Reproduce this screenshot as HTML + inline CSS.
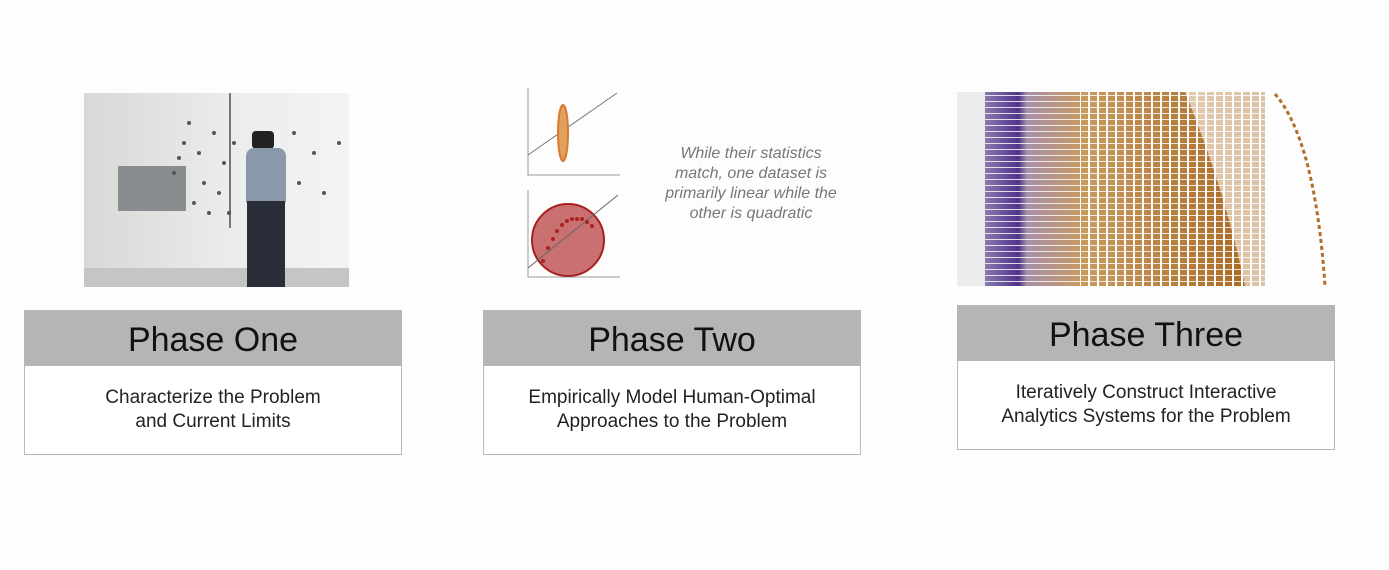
<!DOCTYPE html>
<html><head><style>
body{margin:0;width:1389px;height:570px;background:#fdfdfd;position:relative;overflow:hidden;font-family:"Liberation Sans",sans-serif}
.box{position:absolute;width:376px;border:1px solid #b8b8b8;background:#fff}
.hd{height:55px;background:#b5b5b8;text-align:center;font-size:34px;line-height:58px;color:#111;font-weight:300}
.bd{height:88px;text-align:center;font-size:19px;line-height:24px;color:#222;padding-top:20px;box-sizing:border-box}
</style></head><body>
<div style="position:absolute;left:84px;top:93px;width:265px;height:194px;background:linear-gradient(90deg,#d8d9d6,#eceeed 60%,#f2f3f2);overflow:hidden">
<div style="position:absolute;left:0;top:175px;width:265px;height:19px;background:#c4c6c5"></div>
<div style="position:absolute;left:34px;top:73px;width:68px;height:45px;background:#8a8d90"></div>
<div style="position:absolute;left:145px;top:0;width:2px;height:135px;background:#777"></div>
<div style="position:absolute;left:168px;top:38px;width:22px;height:18px;background:#222;border-radius:4px"></div>
<div style="position:absolute;left:162px;top:55px;width:40px;height:55px;background:#8a99aa;border-radius:8px 8px 2px 2px"></div>
<div style="position:absolute;left:163px;top:108px;width:38px;height:86px;background:#2a2e38"></div>
<svg width="265" height="194" style="position:absolute;left:0;top:0">
<g fill="#555">
<circle cx="100" cy="50" r="2"/><circle cx="115" cy="60" r="2"/><circle cx="130" cy="40" r="2"/><circle cx="90" cy="80" r="2"/><circle cx="120" cy="90" r="2"/><circle cx="140" cy="70" r="2"/><circle cx="110" cy="110" r="2"/><circle cx="135" cy="100" r="2"/><circle cx="150" cy="50" r="2"/><circle cx="105" cy="30" r="2"/><circle cx="125" cy="120" r="2"/><circle cx="145" cy="120" r="2"/><circle cx="95" cy="65" r="2"/><circle cx="210" cy="40" r="2"/><circle cx="230" cy="60" r="2"/><circle cx="255" cy="50" r="2"/><circle cx="215" cy="90" r="2"/><circle cx="240" cy="100" r="2"/>
</g></svg>
</div>
<svg width="140" height="200" style="position:absolute;left:520px;top:85px" >
<g stroke="#999" stroke-width="1" fill="none"><path d="M8 3 V90 H100"/><path d="M8 105 V192 H100"/></g>
<line x1="8" y1="70" x2="97" y2="8" stroke="#777"/>
<ellipse cx="43" cy="48" rx="5" ry="28" fill="#e0a060" stroke="#d77a30" stroke-width="2"/>
<circle cx="48" cy="155" r="36" fill="#c97070" stroke="#a82020" stroke-width="2"/>
<line x1="8" y1="183" x2="98" y2="110" stroke="#666"/>
<g fill="#a22"><circle cx="23" cy="176" r="2"/><circle cx="28" cy="163" r="2"/><circle cx="33" cy="154" r="2"/><circle cx="37" cy="146" r="2"/><circle cx="42" cy="140" r="2"/><circle cx="47" cy="136" r="2"/><circle cx="52" cy="134" r="2"/><circle cx="57" cy="134" r="2"/><circle cx="62" cy="134" r="2"/><circle cx="67" cy="137" r="2"/><circle cx="72" cy="141" r="2"/></g>
</svg>
<div style="position:absolute;left:640px;top:144px;width:222px;text-align:center;font-style:italic;color:#777;font-size:16px;line-height:20px">While their statistics<br>match, one dataset is<br>primarily linear while the<br>other is quadratic</div>
<svg width="380" height="200" style="position:absolute;left:955px;top:90px">
<defs>
<linearGradient id="g" x1="0" x2="1"><stop offset="0" stop-color="#8a7ab0"/><stop offset="0.12" stop-color="#4e3388"/><stop offset="0.15" stop-color="#a890a8"/><stop offset="0.35" stop-color="#c89a60"/><stop offset="1" stop-color="#a8661e"/></linearGradient>
<pattern id="v" width="9" height="200" patternUnits="userSpaceOnUse"><rect x="7" width="2" height="200" fill="#fff"/></pattern>
<pattern id="h" width="10" height="6" patternUnits="userSpaceOnUse"><rect y="5" width="10" height="1" fill="#fff" opacity="0.8"/></pattern>
</defs>
<rect x="2" y="2" width="28" height="194" fill="#ececee"/>
<rect x="30" y="2" width="280" height="194" fill="url(#g)"/>
<rect x="125" y="2" width="185" height="194" fill="url(#v)"/>
<rect x="30" y="2" width="280" height="194" fill="url(#h)"/>
<path d="M230 2 L312 2 L312 196 L290 196 Q270 100 230 2Z" fill="#fff" opacity="0.6"/>
<path d="M320 4 Q360 50 370 196" stroke="#b0702a" stroke-width="3" fill="none" stroke-dasharray="4 3"/>
</svg>
<div class="box" style="left:24px;top:310px"><div class="hd">Phase One</div><div class="bd">Characterize the Problem<br>and Current Limits</div></div>
<div class="box" style="left:483px;top:310px"><div class="hd">Phase Two</div><div class="bd">Empirically Model Human-Optimal<br>Approaches to the Problem</div></div>
<div class="box" style="left:957px;top:305px"><div class="hd">Phase Three</div><div class="bd">Iteratively Construct Interactive<br>Analytics Systems for the Problem</div></div>
</body></html>
